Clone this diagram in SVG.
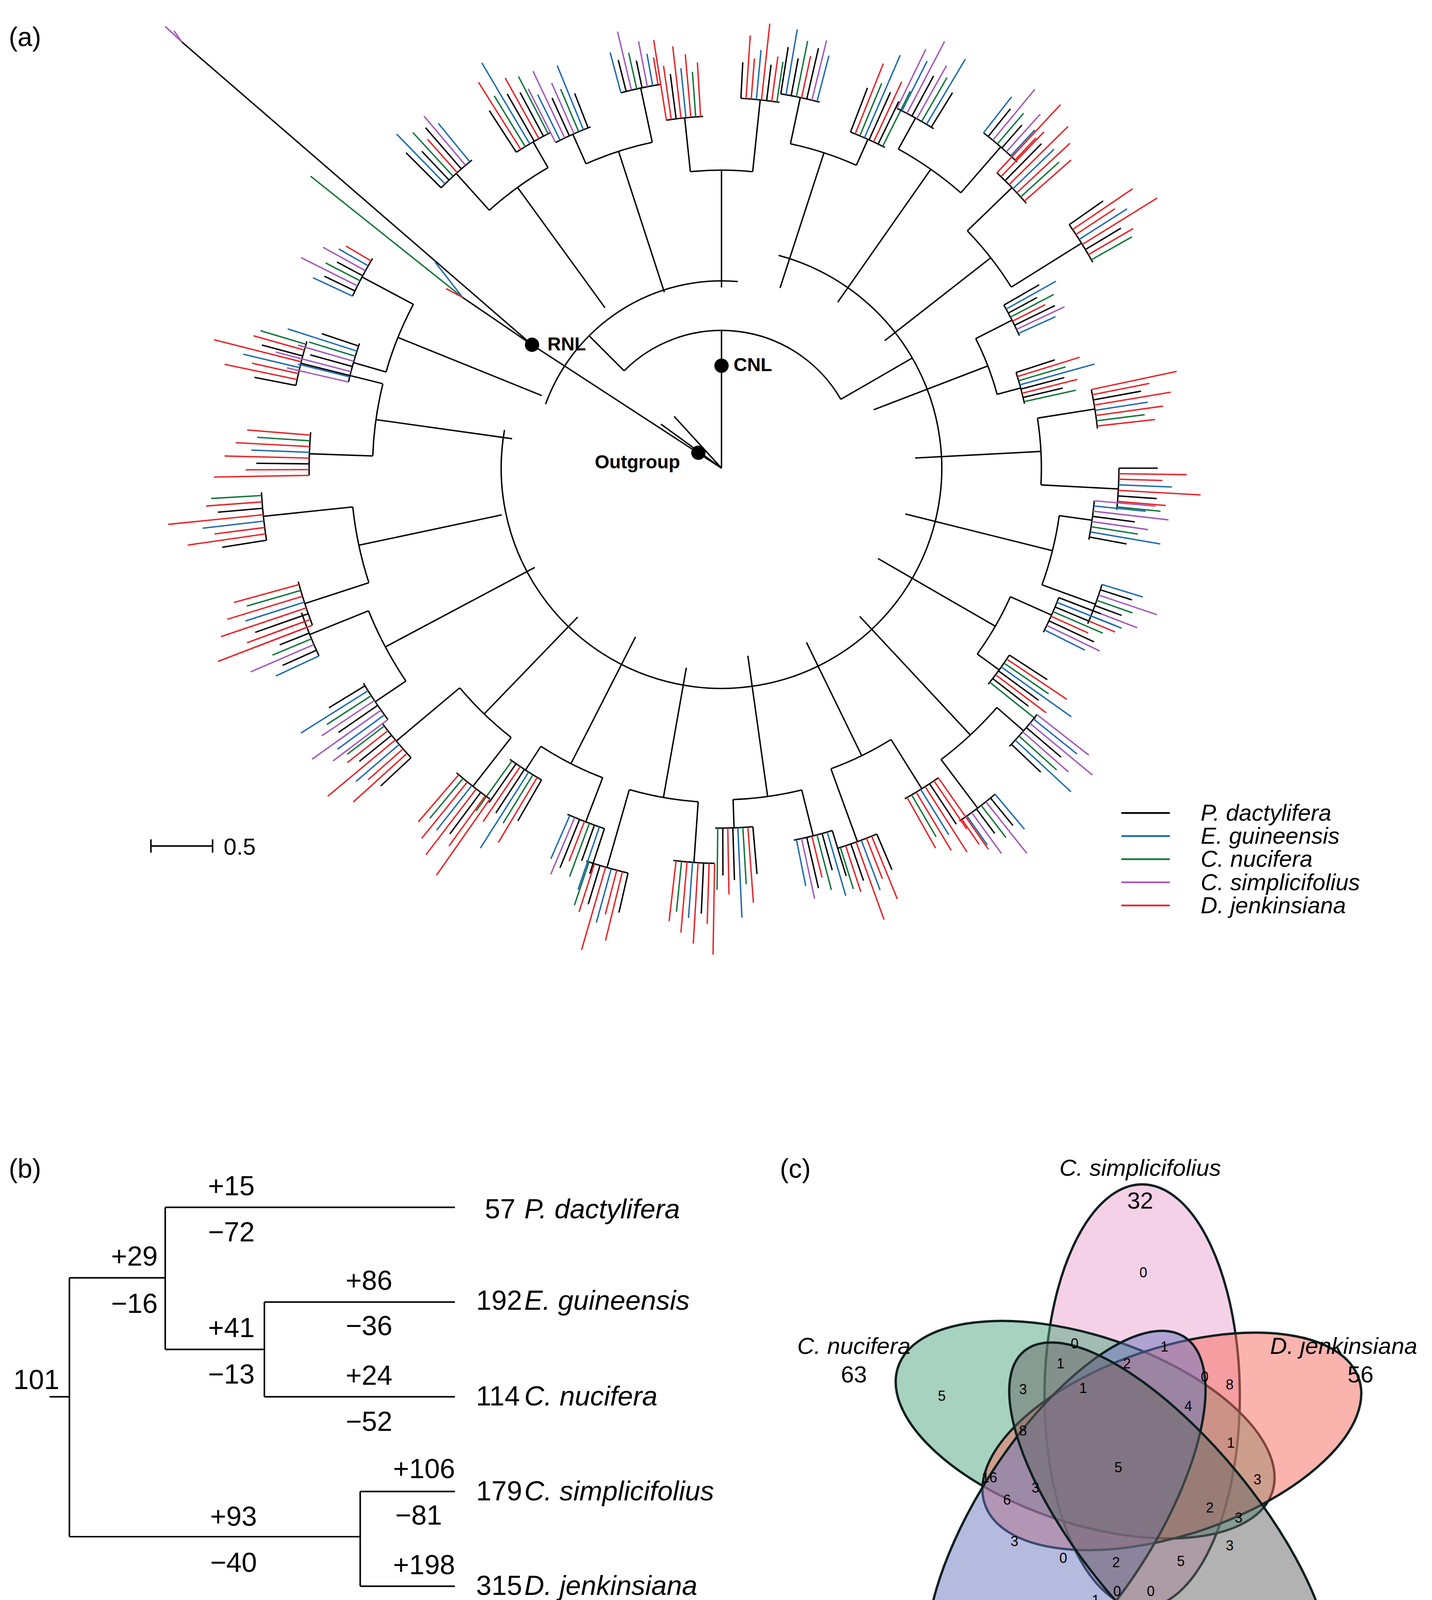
<svg xmlns="http://www.w3.org/2000/svg" xmlns:xlink="http://www.w3.org/1999/xlink" width="3666" height="4398" viewBox="0 0 3666 4398">
<style>
text{font-family:"Liberation Sans",Arial,sans-serif;fill:#000}
.t line,.t path{fill:none;stroke:#000;stroke-width:3.6;vector-effect:non-scaling-stroke}
line.k{stroke:#000}line.b{stroke:#1f6cb0}line.g{stroke:#12773a}line.p{stroke:#a45ab8}line.r{stroke:#e8262a}
.ln{fill:none;stroke:#000;stroke-width:1.4}
.num{font-size:25px;text-anchor:middle}
.sp{font-size:25px;font-style:italic}
.lg{font-size:21px;font-style:italic}
.v{fill-opacity:0.5;stroke:#0d1f1f;stroke-width:6}
.vn{font-size:36px;text-anchor:middle}
.vl{font-size:60px;text-anchor:middle}
</style>
<defs>
<g id="A" class="t">
<line x1="40" y1="0" x2="70" y2="0"/>
<path d="M69.62,-7.32 A70,70 0 0 1 69.62,7.32"/>
<line x1="70" y1="0" x2="80" y2="0" transform="rotate(-6)"/>
<line x1="70" y1="0" x2="76" y2="0" transform="rotate(6)"/>
<path d="M80,0 A80,80 0 0 1 79.56,8.36" transform="rotate(-9)"/>
<path d="M76,0 A76,76 0 0 1 75.58,7.94" transform="rotate(3)"/>
<line class="k" x1="80" y1="0" x2="90" y2="0" transform="rotate(-9)"/>
<line class="b" x1="80" y1="0" x2="94" y2="0" transform="rotate(-8.2)"/>
<line class="k" x1="80" y1="0" x2="88" y2="0" transform="rotate(-7.4)"/>
<line class="g" x1="80" y1="0" x2="92" y2="0" transform="rotate(-6.6)"/>
<line class="r" x1="80" y1="0" x2="89" y2="0" transform="rotate(-5.8)"/>
<line class="k" x1="80" y1="0" x2="91" y2="0" transform="rotate(-5)"/>
<line class="p" x1="80" y1="0" x2="93" y2="0" transform="rotate(-4.2)"/>
<line class="b" x1="80" y1="0" x2="90" y2="0" transform="rotate(-3.4)"/>
<line class="k" x1="76" y1="0" x2="86" y2="0" transform="rotate(3)"/>
<line class="r" x1="76" y1="0" x2="92" y2="0" transform="rotate(3.8)"/>
<line class="g" x1="76" y1="0" x2="88" y2="0" transform="rotate(4.6)"/>
<line class="b" x1="76" y1="0" x2="95" y2="0" transform="rotate(5.4)"/>
<line class="k" x1="76" y1="0" x2="87" y2="0" transform="rotate(6.2)"/>
<line class="r" x1="76" y1="0" x2="90" y2="0" transform="rotate(7)"/>
<line class="k" x1="76" y1="0" x2="86" y2="0" transform="rotate(7.8)"/>
<line class="g" x1="76" y1="0" x2="89" y2="0" transform="rotate(8.6)"/>
</g>
<g id="B" class="t">
<line x1="40" y1="0" x2="66" y2="0"/>
<path d="M65.64,-6.86 A66,66 0 0 1 65.64,6.86"/>
<line x1="66" y1="0" x2="78" y2="0" transform="rotate(-6)"/>
<line x1="66" y1="0" x2="82" y2="0" transform="rotate(6)"/>
<path d="M78,0 A78,78 0 0 1 77.57,8.15" transform="rotate(-9)"/>
<path d="M82,0 A82,82 0 0 1 81.55,8.57" transform="rotate(3)"/>
<line class="r" x1="78" y1="0" x2="96" y2="0" transform="rotate(-9)"/>
<line class="r" x1="78" y1="0" x2="90" y2="0" transform="rotate(-8.2)"/>
<line class="k" x1="78" y1="0" x2="88" y2="0" transform="rotate(-7.4)"/>
<line class="r" x1="78" y1="0" x2="94" y2="0" transform="rotate(-6.6)"/>
<line class="b" x1="78" y1="0" x2="89" y2="0" transform="rotate(-5.8)"/>
<line class="r" x1="78" y1="0" x2="92" y2="0" transform="rotate(-5)"/>
<line class="g" x1="78" y1="0" x2="88" y2="0" transform="rotate(-4.2)"/>
<line class="r" x1="78" y1="0" x2="90" y2="0" transform="rotate(-3.4)"/>
<line class="k" x1="82" y1="0" x2="90" y2="0" transform="rotate(3)"/>
<line class="r" x1="82" y1="0" x2="96" y2="0" transform="rotate(3.8)"/>
<line class="r" x1="82" y1="0" x2="91" y2="0" transform="rotate(4.6)"/>
<line class="b" x1="82" y1="0" x2="93" y2="0" transform="rotate(5.4)"/>
<line class="r" x1="82" y1="0" x2="99" y2="0" transform="rotate(6.2)"/>
<line class="k" x1="82" y1="0" x2="90" y2="0" transform="rotate(7)"/>
<line class="r" x1="82" y1="0" x2="92" y2="0" transform="rotate(7.8)"/>
<line class="g" x1="82" y1="0" x2="91" y2="0" transform="rotate(8.6)"/>
</g>
<g id="C" class="t">
<line x1="40" y1="0" x2="72" y2="0"/>
<path d="M71.61,-7.53 A72,72 0 0 1 71.61,7.53"/>
<line x1="72" y1="0" x2="79" y2="0" transform="rotate(-6)"/>
<line x1="72" y1="0" x2="84" y2="0" transform="rotate(6)"/>
<path d="M79,0 A79,79 0 0 1 78.57,8.26" transform="rotate(-9)"/>
<path d="M84,0 A84,84 0 0 1 83.54,8.78" transform="rotate(3)"/>
<line class="p" x1="79" y1="0" x2="92" y2="0" transform="rotate(-9)"/>
<line class="b" x1="79" y1="0" x2="90" y2="0" transform="rotate(-8.2)"/>
<line class="p" x1="79" y1="0" x2="95" y2="0" transform="rotate(-7.4)"/>
<line class="k" x1="79" y1="0" x2="88" y2="0" transform="rotate(-6.6)"/>
<line class="p" x1="79" y1="0" x2="91" y2="0" transform="rotate(-5.8)"/>
<line class="g" x1="79" y1="0" x2="89" y2="0" transform="rotate(-5)"/>
<line class="b" x1="79" y1="0" x2="94" y2="0" transform="rotate(-4.2)"/>
<line class="k" x1="79" y1="0" x2="87" y2="0" transform="rotate(-3.4)"/>
<line class="b" x1="84" y1="0" x2="93" y2="0" transform="rotate(3)"/>
<line class="k" x1="84" y1="0" x2="91" y2="0" transform="rotate(3.8)"/>
<line class="p" x1="84" y1="0" x2="97" y2="0" transform="rotate(4.6)"/>
<line class="g" x1="84" y1="0" x2="92" y2="0" transform="rotate(5.4)"/>
<line class="k" x1="84" y1="0" x2="90" y2="0" transform="rotate(6.2)"/>
<line class="p" x1="84" y1="0" x2="94" y2="0" transform="rotate(7)"/>
<line class="b" x1="84" y1="0" x2="91" y2="0" transform="rotate(7.8)"/>
<line class="r" x1="84" y1="0" x2="90" y2="0" transform="rotate(8.6)"/>
</g>
</defs>
<g transform="scale(2.82)">
<text x="8" y="42" font-size="24">(a)</text>
<g id="tree" class="t">
<line x1="655" y1="425" x2="655" y2="300"/>
<path d="M566.6,336.6 A125,125 0 0 1 763.3,362.5"/>
<line x1="566.6" y1="336.6" x2="534.8" y2="304.8"/>
<line x1="763.3" y1="362.5" x2="828.2" y2="325"/>
<path d="M495.3,366.9 A170,170 0 0 1 669.8,255.6"/>
<path d="M706.8,231.8 A200,200 0 1 1 458,390.3"/>
<line x1="655" y1="425" x2="483" y2="313"/>
<line x1="483" y1="313" x2="165" y2="38"/>
<line class="p" x1="165" y1="38" x2="150" y2="24"/>
<line class="p" x1="165" y1="38" x2="158" y2="28"/>
<line x1="483" y1="313" x2="420" y2="270"/>
<line class="g" x1="420" y1="270" x2="282" y2="160"/>
<line class="b" x1="420" y1="270" x2="395" y2="238"/>
<line class="r" x1="420" y1="270" x2="405" y2="262"/>
<line x1="655" y1="425" x2="600" y2="385"/>
<line x1="655" y1="425" x2="612" y2="378"/>
<use href="#B" transform="translate(655,425) rotate(-172) scale(4.8)"/>
<use href="#C" transform="translate(655,425) rotate(-158) scale(4.4)"/>
<use href="#A" transform="translate(655,425) rotate(-126) scale(4.5)"/>
<use href="#C" transform="translate(655,425) rotate(-108) scale(4.2)"/>
<use href="#B" transform="translate(655,425) rotate(-90) scale(4.1)"/>
<use href="#A" transform="translate(655,425) rotate(-72) scale(4.3)"/>
<use href="#C" transform="translate(655,425) rotate(-55) scale(4.6)"/>
<use href="#B" transform="translate(655,425) rotate(-38) scale(4.7)"/>
<use href="#A" transform="translate(655,425) rotate(-21) scale(3.7)"/>
<use href="#B" transform="translate(655,425) rotate(-3) scale(4.4)"/>
<use href="#C" transform="translate(655,425) rotate(14) scale(4.3)"/>
<use href="#A" transform="translate(655,425) rotate(30) scale(4.1)"/>
<use href="#C" transform="translate(655,425) rotate(47) scale(4.6)"/>
<use href="#B" transform="translate(655,425) rotate(64) scale(4.4)"/>
<use href="#A" transform="translate(655,425) rotate(82) scale(4.3)"/>
<use href="#B" transform="translate(655,425) rotate(100) scale(4.6)"/>
<use href="#A" transform="translate(655,425) rotate(117) scale(4.3)"/>
<use href="#B" transform="translate(655,425) rotate(134) scale(4.7)"/>
<use href="#C" transform="translate(655,425) rotate(152) scale(4.8)"/>
<use href="#B" transform="translate(655,425) rotate(168) scale(5.1)"/>
</g>
<g id="markers">
<circle cx="655" cy="332" r="6.5"/>
<circle cx="483" cy="313" r="6.5"/>
<circle cx="634" cy="411" r="6.5"/>
<text x="666" y="337" font-size="17" font-weight="bold">CNL</text>
<text x="497" y="318" font-size="17" font-weight="bold">RNL</text>
<text x="540" y="425" font-size="17" font-weight="bold">Outgroup</text>
</g>
<g id="scalebar">
<path class="ln" d="M137,768 H193 M137,762 V774 M193,762 V774"/>
<text x="203" y="776" font-size="21">0.5</text>
</g>
<g id="legend">
<line x1="1018" y1="738" x2="1062" y2="738" stroke="#000" stroke-width="1.6"/>
<line x1="1018" y1="759" x2="1062" y2="759" stroke="#1f6cb0" stroke-width="1.6"/>
<line x1="1018" y1="780" x2="1062" y2="780" stroke="#12773a" stroke-width="1.6"/>
<line x1="1018" y1="801" x2="1062" y2="801" stroke="#a45ab8" stroke-width="1.6"/>
<line x1="1018" y1="822" x2="1062" y2="822" stroke="#e8262a" stroke-width="1.6"/>
<text class="lg" x="1090" y="745">P. dactylifera</text>
<text class="lg" x="1090" y="766">E. guineensis</text>
<text class="lg" x="1090" y="787">C. nucifera</text>
<text class="lg" x="1090" y="808">C. simplicifolius</text>
<text class="lg" x="1090" y="829">D. jenkinsiana</text>
</g>
<text x="8" y="1069" font-size="24">(b)</text>
<g id="timetree">
<path class="ln" d="M45,1268 H63 M63,1160 V1395 M63,1160 H150 M150,1096 V1225 M150,1096 H413 M150,1225 H240 M240,1182 V1268 M240,1182 H413 M240,1268 H413 M63,1395 H327 M327,1354 V1440 M327,1354 H413 M327,1440 H413"/>
<text class="num" x="33" y="1261">101</text>
<text class="num" x="122" y="1149">+29</text>
<text class="num" x="122" y="1192">−16</text>
<text class="num" x="210" y="1085">+15</text>
<text class="num" x="210" y="1127">−72</text>
<text class="num" x="210" y="1214">+41</text>
<text class="num" x="210" y="1256">−13</text>
<text class="num" x="335" y="1171">+86</text>
<text class="num" x="335" y="1212">−36</text>
<text class="num" x="335" y="1257">+24</text>
<text class="num" x="335" y="1299">−52</text>
<text class="num" x="212" y="1385">+93</text>
<text class="num" x="212" y="1427">−40</text>
<text class="num" x="385" y="1342">+106</text>
<text class="num" x="380" y="1384">−81</text>
<text class="num" x="385" y="1429">+198</text>
<text class="num" x="385" y="1472">−37</text>
<g font-size="25" text-anchor="end">
<text x="468" y="1106">57</text><text x="474" y="1189">192</text><text x="472" y="1276">114</text><text x="474" y="1362">179</text><text x="474" y="1448">315</text>
</g>
<text class="sp" x="476" y="1106">P. dactylifera</text>
<text class="sp" x="476" y="1189">E. guineensis</text>
<text class="sp" x="476" y="1276">C. nucifera</text>
<text class="sp" x="476" y="1362">C. simplicifolius</text>
<text class="sp" x="476" y="1448">D. jenkinsiana</text>
<path class="ln" d="M63,1500 H413 M63,1488 V1500 M106.75,1493 V1500 M150.5,1488 V1500 M194.25,1493 V1500 M238,1488 V1500 M281.75,1493 V1500 M325.5,1488 V1500 M369.25,1493 V1500 M413,1488 V1500"/>
<g font-size="25" text-anchor="middle">
<text x="63" y="1530">80</text><text x="150.5" y="1530">60</text><text x="238" y="1530">40</text><text x="325.5" y="1530">20</text><text x="413" y="1530">0</text>
</g>
<text x="430" y="1514" font-size="19">Million years ago</text>
</g>
<text x="708" y="1069" font-size="24">(c)</text>
</g>
<g id="venn">
<ellipse class="v" cx="2924" cy="3574" rx="250" ry="542" fill="#e9a3cf"/>
<ellipse class="v" cx="2778" cy="3660" rx="505" ry="240" fill="#4fa67f" transform="rotate(18.5 2778 3660)"/>
<ellipse class="v" cx="3000" cy="3690" rx="505" ry="240" fill="#f66a5c" transform="rotate(-18.5 3000 3690)"/>
<ellipse class="v" cx="2729" cy="3890" rx="557" ry="225" fill="#6b76c0" transform="rotate(-57 2729 3890)"/>
<ellipse class="v" cx="2996" cy="3915" rx="590" ry="225" fill="#666" transform="rotate(50.7 2996 3915)"/>
<g class="vn">
<text x="2927" y="3270">0</text><text x="2751" y="3452">0</text><text x="2981" y="3460">1</text><text x="2715" y="3503">1</text><text x="2885" y="3503">2</text><text x="3084" y="3537">0</text><text x="3148" y="3557">8</text><text x="2411" y="3586">5</text><text x="2619" y="3569">3</text><text x="2773" y="3566">1</text><text x="3042" y="3612">4</text><text x="2619" y="3675">8</text><text x="3151" y="3706">1</text><text x="2863" y="3769">5</text><text x="2533" y="3795">16</text><text x="3219" y="3800">3</text><text x="2651" y="3821">3</text><text x="2578" y="3852">6</text><text x="3097" y="3872">2</text><text x="3171" y="3898">3</text><text x="3148" y="3969">3</text><text x="2597" y="3958">3</text><text x="2722" y="4001">0</text><text x="2857" y="4012">2</text><text x="3023" y="4009">5</text><text x="2860" y="4086">0</text><text x="2946" y="4086">0</text><text x="2805" y="4109">1</text><text x="2542" y="4152">6</text><text x="3116" y="4169">1</text>
</g>
<g class="vl">
<text x="2919" y="3010" font-style="italic">C. simplicifolius</text><text x="2919" y="3094">32</text>
<text x="3440" y="3466" font-style="italic">D. jenkinsiana</text><text x="3483" y="3539">56</text>
<text x="2186" y="3466" font-style="italic">C. nucifera</text><text x="2186" y="3539">63</text>
<text x="2262" y="4306" font-style="italic">E. guineensis</text><text x="2248" y="4377">58</text>
<text x="3446" y="4306" font-style="italic">P. dactylifera</text><text x="3412" y="4377">38</text>
</g>
</g>
</svg>
